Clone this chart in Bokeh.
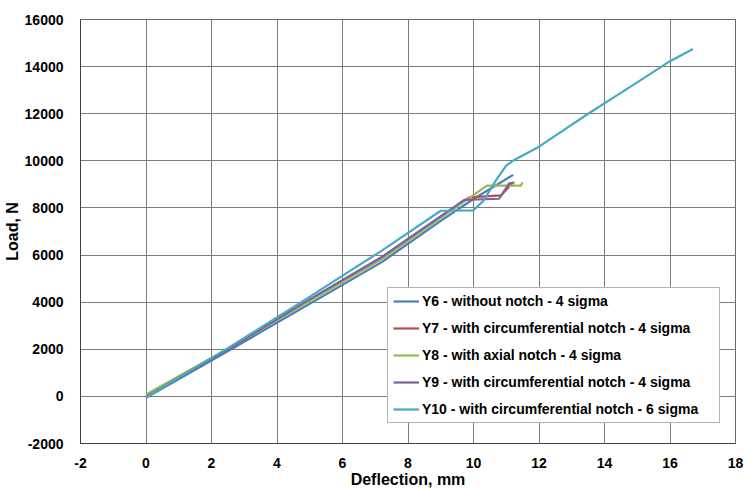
from bokeh.plotting import figure
from bokeh.models import Range1d, FixedTicker, Legend, LegendItem
from bokeh.embed import file_html
from bokeh.resources import INLINE

# ---- data ----
y6_x = [0, 2.6, 5.09, 7.2, 9.0, 10.0, 11.21]
y6_y = [-60, 2000, 4000, 5700, 7450, 8380, 9405]

y7_x = [0, 2.5, 4.9, 7.2, 9.87, 10.84, 11.19, 11.25]
y7_y = [0, 2000, 4000, 5900, 8450, 8530, 9065, 9080]

y8_x = [0, 2.5, 4.95, 7.2, 10.41, 11.45, 11.5]
y8_y = [80, 2020, 4000, 5820, 8950, 8950, 9090]

y9_x = [0, 2.5, 4.85, 7.2, 9.72, 10.78, 11.09, 11.2]
y9_y = [-20, 2000, 4000, 5920, 8340, 8390, 9040, 9050]

y10_x = [0, 2.5, 4.74, 7.2, 9.0, 10.0, 10.3, 10.7, 11.0, 11.2, 12.0, 13.5, 15.0, 16.0, 16.7]
y10_y = [-40, 2050, 4000, 6190, 7880, 7900, 8300, 9200, 9800, 10000, 10600, 12000, 13330, 14230, 14750]

series_names = [
    "Y6 - without notch - 4 sigma",
    "Y7 - with circumferential notch - 4 sigma",
    "Y8 - with axial notch - 4 sigma",
    "Y9 - with circumferential notch - 4 sigma",
    "Y10 - with circumferential notch - 6 sigma",
]
series_colors = ["#4A7EBB", "#BE4B48", "#98B954", "#7D60A0", "#46AAC5"]

x_ticks = [-2, 0, 2, 4, 6, 8, 10, 12, 14, 16, 18]
y_ticks = [-2000, 0, 2000, 4000, 6000, 8000, 10000, 12000, 14000, 16000]

FONT = "Liberation Sans"

p = figure(width=744, height=490, output_backend="svg", toolbar_location=None,
           x_range=Range1d(-2, 18), y_range=Range1d(-2000, 16000),
           min_border_left=79, min_border_right=9, min_border_top=19, min_border_bottom=47)
p.background_fill_color = "white"
p.border_fill_color = "white"
p.outline_line_color = "#6a6a6a"
p.outline_line_width = 1

for ax, ticks in ((p.xaxis[0], x_ticks), (p.yaxis[0], y_ticks)):
    ax.ticker = FixedTicker(ticks=ticks)
    ax.major_label_overrides = {t: str(t) for t in ticks}
    ax.major_tick_line_color = None
    ax.minor_tick_line_color = None
    ax.axis_line_color = "#404040"
    ax.major_label_text_font = FONT
    ax.major_label_text_font_style = "bold"
    ax.major_label_text_font_size = "14px"
    ax.major_label_text_color = "#000000"
    ax.axis_label_text_font = FONT
    ax.axis_label_text_font_style = "bold"
    ax.axis_label_text_font_size = "16px"
    ax.axis_label_text_color = "#000000"

p.xaxis.axis_label = "Deflection, mm"
p.yaxis.axis_label = "Load, N"
p.xaxis.major_label_standoff = 8
p.xaxis.axis_label_standoff = 0
p.yaxis.major_label_standoff = 11
p.yaxis.axis_label_standoff = 1

p.xgrid.ticker = FixedTicker(ticks=x_ticks)
p.ygrid.ticker = FixedTicker(ticks=y_ticks)
p.grid.grid_line_color = "#7c7c7c"
p.grid.grid_line_width = 1

data = [(y6_x, y6_y), (y7_x, y7_y), (y8_x, y8_y), (y9_x, y9_y), (y10_x, y10_y)]
items = []
for (xs, ys), name, col in zip(data, series_names, series_colors):
    r = p.line(xs, ys, line_color=col, line_width=2.2)
    items.append(LegendItem(label=name, renderers=[r]))

legend = Legend(items=items, location=(307, 20), margin=0, padding=5,
                spacing=11, label_height=16, glyph_height=16, glyph_width=26,
                label_standoff=3, label_width=292,
                label_text_font=FONT, label_text_font_style="bold",
                label_text_font_size="14px", label_text_color="#000000",
                border_line_color="#6a6a6a", border_line_width=1,
                background_fill_color="white", background_fill_alpha=1.0)
p.add_layout(legend, "center")

open("out.html", "w").write(file_html(p, INLINE))
